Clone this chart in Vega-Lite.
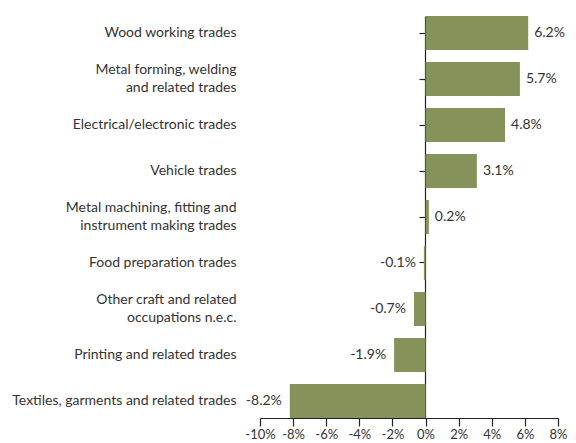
{
  "$schema": "https://vega.github.io/schema/vega-lite/v6.json",
  "width": 298,
  "height": 402,
  "autosize": {"type": "none"},
  "padding": {"left": 260, "top": 16, "right": 18, "bottom": 25},
  "background": "white",
  "config": {
    "view": {"stroke": null},
    "font": "Lato",
    "locale": {"number": {"decimal": ".", "thousands": ",", "grouping": [3], "currency": ["", ""], "minus": "-"}},
    "axis": {"labelFont": "Lato", "labelFontSize": 14, "labelColor": "#333333", "grid": false}
  },
  "data": {
    "values": [
      {"trade": "Wood working trades", "value": 0.062},
      {"trade": "Metal forming, welding|and related trades", "value": 0.057},
      {"trade": "Electrical/electronic trades", "value": 0.048},
      {"trade": "Vehicle trades", "value": 0.031},
      {"trade": "Metal machining, fitting and|instrument making trades", "value": 0.002},
      {"trade": "Food preparation trades", "value": -0.001},
      {"trade": "Other craft and related|occupations n.e.c.", "value": -0.007},
      {"trade": "Printing and related trades", "value": -0.019},
      {"trade": "Textiles, garments and related trades", "value": -0.082}
    ]
  },
  "encoding": {
    "y": {
      "field": "trade",
      "type": "nominal",
      "sort": null,
      "scale": {"paddingInner": 0.26, "paddingOuter": 0.0},
      "axis": {
        "title": null,
        "offset": -165,
        "tickSize": 6,
        "tickColor": "#222222",
        "tickWidth": 1.2,
        "domainColor": "#222222",
        "domainWidth": 1.2,
        "labelPadding": 183,
        "labelExpr": "split(datum.label, '|')",
        "labelOffset": {"condition": {"test": "indexof(datum.label, '|') >= 0", "value": -9}, "value": 0},
        "labelLineHeight": 18,
        "labelLimit": 300
      }
    },
    "x": {
      "field": "value",
      "type": "quantitative",
      "scale": {"domain": [-0.1, 0.08], "nice": false},
      "axis": {
        "title": null,
        "format": ".0%",
        "values": [-0.1, -0.08, -0.06, -0.04, -0.02, 0, 0.02, 0.04, 0.06, 0.08],
        "tickSize": 8,
        "tickWidth": 1.2,
        "tickColor": "#222222",
        "domainColor": "#222222",
        "domainWidth": 1.2,
        "offset": 0,
        "labelPadding": 2,
        "labelOverlap": false,
        "labelFlush": false,
        "labelFontSize": 13,
        "zindex": 1
      }
    }
  },
  "layer": [
    {"mark": {"type": "bar", "color": "#85935a"}},
    {
      "transform": [{"filter": "datum.value >= 0"}],
      "mark": {"type": "text", "align": "left", "dx": 6, "fontSize": 14, "font": "Lato", "color": "#333333"},
      "encoding": {"text": {"field": "value", "type": "quantitative", "format": ".1%"}}
    },
    {
      "transform": [{"filter": "datum.value < 0"}],
      "mark": {"type": "text", "align": "right", "dx": -8, "fontSize": 14, "font": "Lato", "color": "#333333"},
      "encoding": {"text": {"field": "value", "type": "quantitative", "format": ".1%"}}
    }
  ]
}
